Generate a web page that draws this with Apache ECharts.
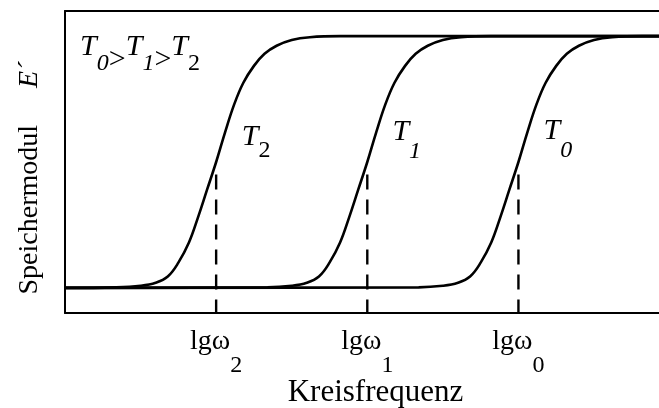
<!DOCTYPE html>
<html>
<head>
<meta charset="utf-8">
<script src="https://cdn.jsdelivr.net/npm/echarts@6/dist/echarts.min.js"></script>
<style>
  html, body { margin: 0; padding: 0; background: #fff; }
  #chart { width: 659px; height: 408px; }
</style>
</head>
<body>
<div id="chart"></div>
<script>
// Frequency axis in lg ω units, modulus axis in arbitrary units.
const tickPositions = [1, 2, 3];
const tickSubscripts = ['2', '1', '0'];

// Storage modulus E' versus lg ω for three temperatures
const xsT2 = [0, 0.34, 0.50, 0.60, 0.68, 0.75, 0.82, 0.88, 0.94, 1.00, 1.06, 1.12, 1.18, 1.25, 1.32, 1.40, 1.50, 1.62, 1.82, 3.93];
const ysT2 = [1, 1.02, 1.08, 1.20, 1.45, 2.00, 2.80, 3.80, 4.90, 6.00, 7.20, 8.30, 9.15, 9.82, 10.30, 10.62, 10.85, 10.96, 11, 11];
const xsT1 = [0, 1.34, 1.50, 1.60, 1.68, 1.75, 1.82, 1.88, 1.94, 2.00, 2.06, 2.12, 2.18, 2.25, 2.32, 2.40, 2.50, 2.62, 2.82, 3.93];
const ysT1 = [1, 1.02, 1.08, 1.20, 1.45, 2.00, 2.80, 3.80, 4.90, 6.00, 7.20, 8.30, 9.15, 9.82, 10.30, 10.62, 10.85, 10.96, 11, 11];
const xsT0 = [0, 2.34, 2.50, 2.60, 2.68, 2.75, 2.82, 2.88, 2.94, 3.00, 3.06, 3.12, 3.18, 3.25, 3.32, 3.40, 3.50, 3.62, 3.82, 3.93];
const ysT0 = [1, 1.02, 1.08, 1.20, 1.45, 2.00, 2.80, 3.80, 4.90, 6.00, 7.20, 8.30, 9.15, 9.82, 10.30, 10.62, 10.85, 10.96, 11, 11];

// Top of the dashed drop lines at each characteristic frequency
const dropTop = 5.5;

const SERIF = '"Liberation Serif", "Times New Roman", serif';
const X_MIN = 0, X_MAX = 3.93, Y_MIN = 0, Y_MAX = 12;

const zip = (xs, ys) => xs.map((x, i) => [x, ys[i]]);

const curves = [
  { name: 'T2', xs: xsT2, ys: ysT2 },
  { name: 'T1', xs: xsT1, ys: ysT1 },
  { name: 'T0', xs: xsT0, ys: ysT0 }
];

const chart = echarts.init(document.getElementById('chart'), null, { renderer: 'canvas' });

const curveSeries = curves.map(c => ({
  name: c.name,
  type: 'line',
  data: zip(c.xs, c.ys),
  smooth: 0.4,
  symbol: 'none',
  silent: true,
  lineStyle: { color: '#000', width: 2.6 },
  z: 3
}));

const dropSeries = tickPositions.map((x, i) => ({
  name: 'drop' + tickSubscripts[i],
  type: 'line',
  data: [[x, dropTop], [x, Y_MIN]],
  symbol: 'none',
  silent: true,
  lineStyle: { color: '#000', width: 2.4, type: [15, 10] },
  z: 2
}));

const subStyle = (pad, italic) => ({
  fontFamily: SERIF, fontSize: 24, lineHeight: 24, fontStyle: italic ? 'italic' : 'normal',
  color: '#000', verticalAlign: 'top', padding: [pad, 0, 0, 0]
});

chart.setOption({
  animation: false,
  backgroundColor: '#fff',
  grid: { left: 65, right: 0, top: 11, bottom: 95, containLabel: false, outerBoundsMode: 'none' },
  xAxis: [
    {
      type: 'value', position: 'bottom', min: X_MIN, max: X_MAX, interval: 1,
      name: 'Kreisfrequenz', nameLocation: 'middle', nameGap: 64, nameMoveOverlap: false,
      nameTextStyle: { fontFamily: SERIF, fontSize: 31, color: '#000', padding: [0, 0, 0, 27] },
      axisLine: { show: true, lineStyle: { color: '#000', width: 2 } },
      axisTick: { show: false },
      splitLine: { show: false },
      axisLabel: {
        margin: 15,
        formatter: v => {
          const i = tickPositions.findIndex(p => Math.abs(p - v) < 1e-6);
          return i < 0 ? '' : '{m|lgω}{s|' + tickSubscripts[i] + '}';
        },
        rich: {
          m: { fontFamily: SERIF, fontSize: 28, lineHeight: 28, color: '#000', verticalAlign: 'top' },
          s: subStyle(26, false)
        }
      }
    },
    {
      type: 'value', position: 'top', min: X_MIN, max: X_MAX,
      axisLine: { show: true, onZero: false, lineStyle: { color: '#000', width: 2 } },
      axisTick: { show: false }, axisLabel: { show: false }, splitLine: { show: false }
    }
  ],
  yAxis: {
    type: 'value', min: Y_MIN, max: Y_MAX,
    name: 'Speichermodul {e|E´}', nameLocation: 'middle', nameGap: 21, nameRotate: 90,
    nameTextStyle: {
      fontFamily: SERIF, fontSize: 28, color: '#000', padding: [0, 32, 0, 0],
      rich: { e: { fontFamily: SERIF, fontSize: 28, fontStyle: 'italic', color: '#000', padding: [0, 0, 0, 30] } }
    },
    axisLine: { show: true, lineStyle: { color: '#000', width: 2 } },
    axisTick: { show: false }, axisLabel: { show: false }, splitLine: { show: false }
  },
  series: curveSeries.concat(dropSeries)
});

// Temperature annotations placed in data coordinates
const tMain = { fontFamily: SERIF, fontSize: 30, lineHeight: 30, fontStyle: 'italic', color: '#000', verticalAlign: 'top' };
const gtStyle = { fontFamily: SERIF, fontSize: 30, lineHeight: 30, color: '#000', verticalAlign: 'top', padding: [13, 0, 0, 0] };

const notes = [
  { at: [0.10, 11.18], text: '{t|T}{a|0}{g|>}{t|T}{a|1}{g|>}{t|T}{b|2}', rich: { t: tMain, g: gtStyle, a: subStyle(20, true), b: subStyle(20, false) } },
  { at: [1.17, 7.57], text: '{t|T}{b|2}', rich: { t: tMain, b: subStyle(16, false) } },
  { at: [2.166, 7.77], text: '{t|T}{a|1}', rich: { t: tMain, a: subStyle(22, true) } },
  { at: [3.166, 7.81], text: '{t|T}{a|0}', rich: { t: tMain, a: subStyle(22, true) } }
];

chart.setOption({
  graphic: notes.map(n => {
    const p = chart.convertToPixel({ gridIndex: 0 }, n.at);
    return {
      type: 'text', x: p[0], y: p[1], silent: true,
      style: { text: n.text, rich: n.rich, align: 'left', verticalAlign: 'top' }
    };
  })
});
</script>
</body>
</html>
